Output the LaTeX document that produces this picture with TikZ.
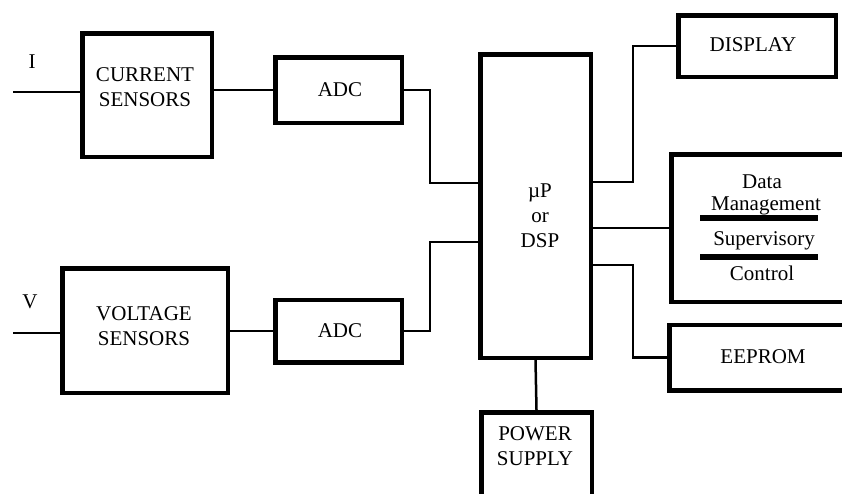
\documentclass[tikz,border=0pt]{standalone}
\usepackage{fontspec}
\setmainfont{Liberation Serif}
\begin{document}
\begin{tikzpicture}[x=1pt,y=-1pt,
  blk/.style={draw, line width=4.5pt, inner sep=0pt},
  txt/.style={font=\fontsize{21}{25}\selectfont, inner sep=0pt, align=center},
  wire/.style={line width=2.5pt},
  bar/.style={line width=6.5pt}]
\useasboundingbox (0,0) rectangle (842,493);
\clip (0,0) rectangle (842,493);
% boxes
\node[blk, minimum width=129.5pt, minimum height=123.5pt] (cs) at (147,95) {};
\node[txt] (cst) at (145,87.5) {CURRENT\\SENSORS};
\node[blk, minimum width=126.5pt, minimum height=65.5pt] (adc1) at (338.5,90) {};
\node[txt] (adc1t) at (340,90) {ADC};
\node[blk, minimum width=165.5pt, minimum height=124.5pt] (vs) at (145,330.5) {};
\node[txt] (vst) at (144,326.5) {VOLTAGE\\SENSORS};
\node[blk, minimum width=126.5pt, minimum height=62.5pt] (adc2) at (338.5,331) {};
\node[txt] (adc2t) at (340,331) {ADC};
\node[blk, minimum width=110.5pt, minimum height=303.5pt] (mp) at (535.5,206) {};
\node[txt] (mpt) at (540,216) {µP\\or\\DSP};
\node[blk, minimum width=157.5pt, minimum height=61.5pt] (disp) at (757,46) {};
\node[txt] (dispt) at (753,45) {DISPLAY};
\node[blk, minimum width=226.5pt, minimum height=147.5pt] (dm) at (784.5,228) {};
\node[txt, anchor=base] (dm1) at (762,188) {Data};
\node[txt, anchor=base] (dm2) at (766,210) {Management};
\node[txt, anchor=base] (dm3) at (764,245) {Supervisory};
\node[txt, anchor=base] (dm4) at (762,280) {Control};
\node[blk, minimum width=228.5pt, minimum height=65.5pt] (ee) at (783.5,357.5) {};
\node[txt] (eet) at (763,357) {EEPROM};
\node[blk, minimum width=110.5pt, minimum height=135.5pt] (ps) at (536.5,480) {};
\node[txt] (pst) at (535,446.5) {POWER\\SUPPLY};
% separators
\draw[bar] (700,218) -- (818,218);
\draw[bar] (700,257) -- (818,257);
% labels
\node[txt] (lI) at (32,62) {I};
\node[txt] (lV) at (30,302) {V};
% inputs
\coordinate (iin) at (13,92);
\coordinate (vin) at (13,333);
\draw[wire] (iin) -- (iin -| cs.west);
\draw[wire] (vin) -- (vin -| vs.west);
\draw[wire] (adc1.west) -- (adc1.west -| cs.east);
\draw[wire] (adc2.west) -- (adc2.west -| vs.east);
% to processor
\coordinate (j1) at (430,183);
\coordinate (j2) at (430,242);
\draw[wire] (adc1.east) -| (j1) -- (j1 -| mp.west);
\draw[wire] (adc2.east) -| (j2) -- (j2 -| mp.west);
% outputs
\coordinate (k1) at (633,182);
\coordinate (k2) at (633,265);
\draw[wire] (k1 -| mp.east) -- (k1) |- (disp.west);
\draw[wire] (dm.west -| mp.east) -- (dm.west);
\draw[wire] (k2 -| mp.east) -- (k2) |- (ee.west);
\draw[wire] (mp.south) -- (ps.north);
\end{tikzpicture}
\end{document}
